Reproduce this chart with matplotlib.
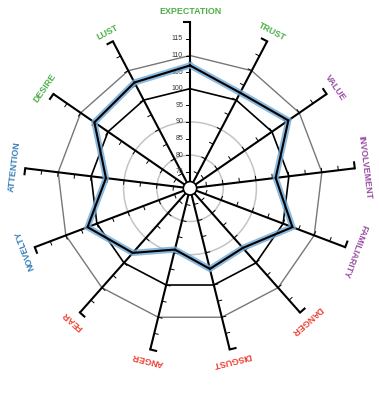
import numpy as np
import matplotlib.pyplot as plt
from matplotlib.patches import Circle

# Axes of the radar, clockwise from the top
categories = ["EXPECTATION", "TRUST", "VALUE", "INVOLVEMENT", "FAMILIARITY",
              "DANGER", "DISGUST", "ANGER", "FEAR", "NOVELTY",
              "ATTENTION", "DESIRE", "LUST"]
scores = [107, 102.5, 106, 96, 103, 94, 95, 89, 96, 103, 95.5, 105, 106]
groups = ["anticipation", "anticipation", "engagement", "engagement", "engagement",
          "threat", "threat", "threat", "threat", "attention", "attention",
          "anticipation", "anticipation"]
group_colors = {"anticipation": "#4daf4a", "engagement": "#984ea3",
                "threat": "#ec3f33", "attention": "#377eb8"}

r_min, r_max = 70, 120
tick_values = [75, 80, 85, 90, 95, 100, 105, 110, 115]
circle_levels = [80, 90]
polygon_levels = {100: ("black", 1.2), 110: ("#777777", 1.0)}

n = len(categories)
theta = np.arange(n) * 2 * np.pi / n   # angle from top, clockwise


def xy(value, ang):
    r = value - r_min
    return r * np.sin(ang), r * np.cos(ang)


fig = plt.figure(figsize=(3.79, 3.95), dpi=100)
ax = fig.add_axes([0, 0, 1, 1])
scale = 3.32  # pixels per unit
cx, cy = 190, 188.3
ax.set_xlim(-cx / scale, (379 - cx) / scale)
ax.set_ylim(-(395 - cy) / scale, cy / scale)
ax.axis("off")

# grid circles
for lev in circle_levels:
    ax.add_patch(Circle((0, 0), lev - r_min, fill=False, ec="#c4c4c4", lw=1.1, zorder=1))

# grid polygons
for lev, (col, lw) in polygon_levels.items():
    px, py = xy(np.full(n + 1, lev), np.append(theta, theta[0]))
    ax.plot(px, py, color=col, lw=lw, zorder=2)

# radial axes with ticks
tick_len = 1.2
cap_len = 1.8
for i, ang in enumerate(theta):
    x0, y0 = xy(r_min, ang)
    x1, y1 = xy(r_max, ang)
    ax.plot([x0, x1], [y0, y1], color="black", lw=1.5, zorder=3, solid_capstyle="butt")
    perp = np.array([-np.cos(ang), np.sin(ang)])
    for tv in tick_values:
        tx, ty = xy(tv, ang)
        ax.plot([tx, tx + tick_len * perp[0]], [ty, ty + tick_len * perp[1]],
                color="black", lw=0.7, zorder=3)
    ax.plot([x1, x1 + cap_len * perp[0]], [y1, y1 + cap_len * perp[1]],
            color="black", lw=1.5, zorder=3)

    # category label
    lx, ly = xy(r_min + 176.5 / scale, ang)
    ax.text(lx, ly, categories[i], rotation=-np.degrees(ang), rotation_mode="anchor",
            ha="center", va="center", fontsize=6.4, fontweight="bold",
            family="Liberation Sans", color=group_colors[groups[i]])

# tick labels on the first axis
for tv in tick_values:
    tx, ty = xy(tv, theta[0])
    ax.text(tx - 2.1, ty, str(tv), ha="right", va="center", fontsize=5,
            family="Liberation Sans", color="#333333", zorder=4)

# data
sx, sy = xy(np.array(scores + scores[:1]), np.append(theta, theta[0]))
ax.plot(sx, sy, color="#6fa8d6", lw=4.5, alpha=0.8, zorder=5, solid_joinstyle="miter")
ax.plot(sx, sy, color="black", lw=1.5, zorder=6, solid_joinstyle="miter")

# center hole
ax.add_patch(Circle((0, 0), 6.7 / scale, fc="white", ec="black", lw=1.2, zorder=7))

fig.savefig("out.png", dpi=100)
